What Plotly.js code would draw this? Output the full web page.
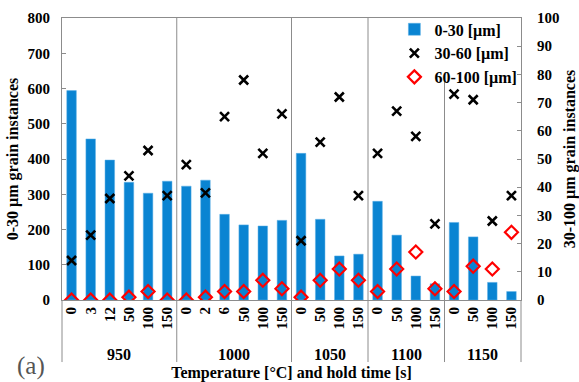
<!DOCTYPE html>
<html>
<head>
<meta charset="utf-8">
<script src="https://cdn.plot.ly/plotly-3.0.1.min.js"></script>
<style>html,body{margin:0;padding:0;background:#fff;}#chart{width:579px;height:382px;}</style>
</head>
<body>
<div id="chart"></div>
<script>
// Temperature groups and hold times
const temperatures = ['950', '1000', '1050', '1100', '1150'];
const holdTimes = [
  ['0', '3', '12', '50', '100', '150'],
  ['0', '2', '6', '50', '100', '150'],
  ['0', '50', '100', '150'],
  ['0', '50', '100', '150'],
  ['0', '50', '100', '150']
];
// Grain counts
const grains_0_30 = [594, 457, 397, 334, 303, 337, 323, 340, 243, 213, 210, 226, 416, 229, 125, 130, 280, 184, 68, 46, 220, 179, 50, 24];
const grains_30_60 = [14, 23, 36, 44, 53, 37, 48, 38, 65, 78, 52, 66, 21, 56, 72, 37, 52, 67, 58, 27, 73, 71, 28, 37];
const grains_60_100 = [0, 0, 0, 1, 3, 0, 0, 1, 3, 3, 7, 4, 1, 7, 11, 7, 3, 11, 17, 4, 3, 12, 11, 24];

// Flatten categories: one slot per (temperature, hold time)
const timeLabels = [].concat(...holdTimes);
const slots = timeLabels.map((_, i) => i);
const total = slots.length;

const SERIF = 'Liberation Serif, Times New Roman, serif';
const GREY = '#8c8c8c';

const traces = [
  {type: 'bar', name: '0-30 [µm]', x: slots, y: grains_0_30, yaxis: 'y',
   marker: {color: '#0a84d2', line: {color: '#5fb0e6', width: 0.5}}},
  {type: 'scatter', mode: 'markers', name: '30-60 [µm]', x: slots, y: grains_30_60, yaxis: 'y2',
   marker: {symbol: 'x-thin', size: 9, line: {color: '#000', width: 2.6}, color: '#000'}},
  {type: 'scatter', mode: 'markers', name: '60-100 [µm]', x: slots, y: grains_60_100, yaxis: 'y2',
   marker: {symbol: 'diamond-open', size: 10, color: '#ff0000', line: {color: '#ff0000', width: 2.2}}}
];

// Group separators and group labels
const yBottom = -0.22;   // extension of frame below the plot (paper units)
const legendBottom = 0.775; // separator under the legend stops at the legend box
const shapes = [];
const annotations = [];
let start = 0;
shapes.push({type: 'line', xref: 'paper', yref: 'paper', x0: 0, x1: 0, y0: yBottom, y1: 0, line: {color: GREY, width: 1}});
holdTimes.forEach((grp, i) => {
  const end = start + grp.length;
  annotations.push({text: temperatures[i], xref: 'x', yref: 'paper', x: (start + end - 1) / 2, y: -0.195,
                    xanchor: 'center', yanchor: 'middle', showarrow: false,
                    font: {family: SERIF, size: 16, color: '#000', weight: 'bold'}});
  const f = end / total;
  let top = 1;
  if (i === holdTimes.length - 1) top = 0;
  else if (i === holdTimes.length - 2) top = legendBottom;
  shapes.push({type: 'line', xref: 'paper', yref: 'paper', x0: f, x1: f,
               y0: yBottom, y1: top, line: {color: GREY, width: 1}, layer: 'below'});
  start = end;
});
annotations.push({text: '(a)', xref: 'paper', yref: 'paper', x: -0.102, y: -0.235, xanchor: 'left', yanchor: 'middle',
                  showarrow: false, font: {family: SERIF, size: 25, color: '#555'}});

const tickFont = {family: SERIF, size: 15, color: '#000', weight: 'bold'};
const titleFont = {family: SERIF, size: 16, color: '#000', weight: 'bold'};

const layout = {
  width: 579, height: 382,
  margin: {l: 62, r: 58, t: 18, b: 82},
  paper_bgcolor: '#fff', plot_bgcolor: '#fff',
  font: {family: SERIF, color: '#000'},
  bargap: 0.5,
  showlegend: true,
  legend: {x: 1.003, xanchor: 'right', y: 1.02, yanchor: 'top', bgcolor: 'rgba(255,255,255,0)',
           font: {family: SERIF, size: 16, color: '#000', weight: 'bold'},
           itemwidth: 30, tracegroupgap: 0},
  xaxis: {range: [-0.5, total - 0.5], tickmode: 'array', tickvals: slots, ticktext: timeLabels, tickangle: -90,
          showline: true, linecolor: GREY, linewidth: 1, mirror: true,
          ticks: '', showgrid: false, zeroline: false,
          tickfont: tickFont,
          title: {text: 'Temperature [°C] and hold time [s]', font: titleFont, standoff: 41}},
  yaxis: {range: [0, 800], dtick: 100, ticks: 'inside', ticklen: 4, tickcolor: GREY,
          showline: true, linecolor: GREY, showgrid: false, zeroline: false,
          tickfont: tickFont, ticklabelstandoff: 8,
          title: {text: '0-30 µm grain instances', font: titleFont, standoff: 4}},
  yaxis2: {overlaying: 'y', side: 'right', range: [0, 100], dtick: 10, ticks: 'inside', ticklen: 4, tickcolor: GREY,
           showline: true, linecolor: GREY, showgrid: false, zeroline: false,
           tickfont: tickFont, ticklabelstandoff: 12,
           title: {text: '30-100 µm grain instances', font: titleFont, standoff: 6}},
  shapes: shapes,
  annotations: annotations
};

Plotly.newPlot('chart', traces, layout, {displayModeBar: false, staticPlot: true});
</script>
</body>
</html>
